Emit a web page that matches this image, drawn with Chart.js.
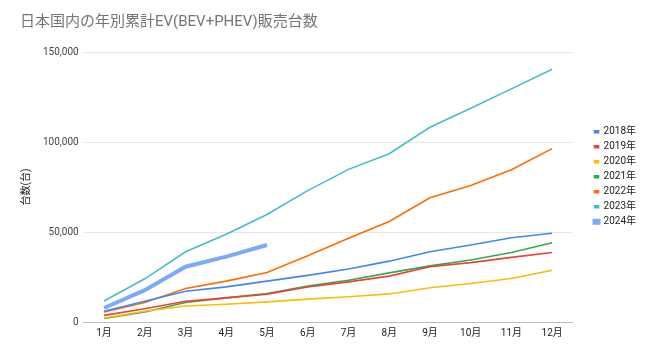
<!DOCTYPE html>
<html>
<head>
<meta charset="utf-8">
<script src="https://cdn.jsdelivr.net/npm/chart.js@4"></script>
<style>
html,body{margin:0;padding:0;background:#fff;}
#wrap{width:650px;height:355px;}
</style>
</head>
<body>
<div id="wrap"><canvas id="c" width="650" height="355"></canvas></div>
<script>
const months = ['1月','2月','3月','4月','5月','6月','7月','8月','9月','10月','11月','12月'];
const seriesNames = ['2018年','2019年','2020年','2021年','2022年','2023年','2024年'];
const y2018 = [6000, 11500, 17100, 19500, 22700, 25900, 29400, 33800, 39000, 42800, 46800, 49300];
const y2019 = [3700, 7400, 11500, 13400, 15400, 19400, 22300, 25500, 30700, 33000, 35900, 38600];
const y2020 = [2200, 6000, 8900, 9900, 11200, 12700, 14000, 15600, 19000, 21400, 24200, 28800];
const y2021 = [1900, 5600, 10800, 13400, 15800, 20000, 23200, 27300, 31200, 34400, 38600, 44000];
const y2022 = [5600, 10800, 18600, 22700, 27500, 36800, 46500, 55800, 69000, 75800, 84600, 96300];
const y2023 = [11700, 24000, 39000, 48800, 59700, 73000, 84800, 93500, 108200, 118800, 129500, 140400];
const y2024 = [7800, 17700, 30700, 36300, 42800];
const colors = ['#4285F4','#EA4335','#FBBC04','#34A853','#FF6D01','#46BDC6','#7BAAF7'];
const widths = [1.6,1.6,1.6,1.6,1.6,1.6,4];
const allData = [y2018,y2019,y2020,y2021,y2022,y2023,y2024];
const yTicks = [0, 50000, 100000, 150000];

const FONT = "Roboto, 'Noto Sans CJK JP', sans-serif";
const LEGEND_SHIFT = 17;
const LEGEND_DROP = 2;

const legendGap = {
  id: 'legendGap',
  beforeInit(chart) {
    const lg = chart.legend;
    const origFit = lg.fit;
    lg.fit = function() { origFit.call(this); this.width += LEGEND_SHIFT; };
  },
  afterLayout(chart) {
    const lg = chart.legend;
    lg.left += LEGEND_SHIFT;
    lg.top += LEGEND_DROP;
    lg.bottom += LEGEND_DROP;
  }
};

new Chart(document.getElementById('c'), {
  type: 'line',
  data: {
    labels: months,
    datasets: seriesNames.map((n,i)=>({
      label: n,
      data: allData[i],
      borderColor: colors[i],
      backgroundColor: colors[i],
      borderWidth: widths[i],
      pointRadius: 0,
      tension: 0,
      fill: false
    }))
  },
  plugins: [legendGap],
  options: {
    responsive: false,
    animation: false,
    layout: {padding: {left: 20, right: 4, top: 5.5, bottom: 11}},
    plugins: {
      title: {
        display: true,
        text: '日本国内の年別累計EV(BEV+PHEV)販売台数',
        align: 'start',
        color: '#757575',
        font: {family: FONT, size: 15, weight: 'normal'},
        padding: {top: 8, bottom: 20.5}
      },
      legend: {
        position: 'right',
        align: 'center',
        labels: {
          color: '#222',
          font: {family: FONT, size: 10},
          boxWidth: 4,
          boxHeight: 2,
          padding: 5
        }
      },
      tooltip: {enabled: false}
    },
    scales: {
      x: {
        offset: true,
        grid: {display: false, drawTicks: false},
        border: {display: true, color: '#bdbdbd', width: 1},
        ticks: {color: '#222', font: {family: FONT, size: 10}, padding: 5, maxRotation: 0}
      },
      y: {
        min: 0, max: 150000,
        afterBuildTicks: (ax)=>{ ax.ticks = yTicks.map(v=>({value:v})); },
        grid: {color: '#e6e6e6', drawTicks: false},
        border: {display: false},
        title: {display: true, text: '台数(台)', color: '#222', font: {family: FONT, size: 10}, padding: {top: 0, bottom: 6}},
        ticks: {
          color: '#444',
          font: {family: FONT, size: 10},
          padding: 5,
          callback: (v)=> v.toLocaleString('en-US')
        }
      }
    }
  }
});
</script>
</body>
</html>
